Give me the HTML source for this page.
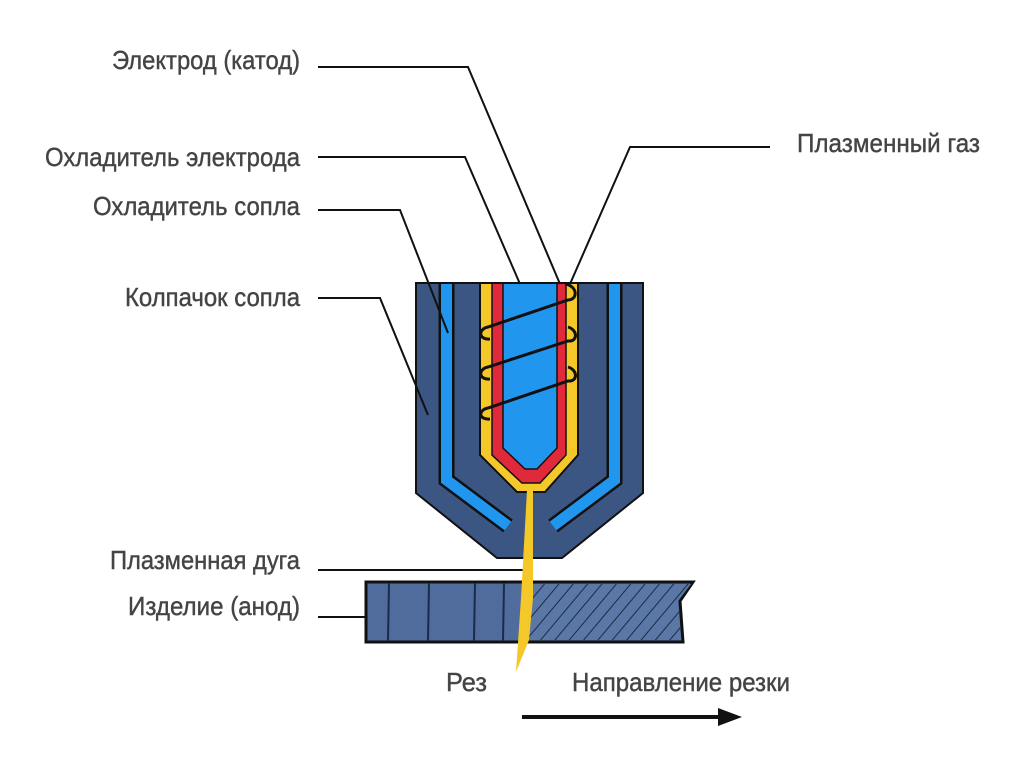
<!DOCTYPE html>
<html><head><meta charset="utf-8"><style>
html,body{margin:0;padding:0;background:#fff;}
svg{display:block}
text{font-family:"Liberation Sans Narrow","Liberation Sans",sans-serif;font-size:26px;fill:#444;}
</style></head><body>
<svg width="1024" height="767" viewBox="0 0 1024 767" xmlns="http://www.w3.org/2000/svg">
<defs>
<pattern id="hatch" patternUnits="userSpaceOnUse" width="11" height="11" patternTransform="rotate(40)">
<rect width="11" height="11" fill="#5a77a6"/>
<line x1="0" y1="0" x2="0" y2="11" stroke="#1a2a48" stroke-width="2"/>
</pattern>
</defs>
<!-- nozzle body -->
<polygon points="416,283 643,283 643,493 562,558 497,558 416,493" fill="#3b5682" stroke="#111" stroke-width="2"/>
<polyline points="446.5,283 446.5,480 508,526" fill="none" stroke="#111" stroke-width="16"/>
<polyline points="446.5,283 446.5,480 508,526" fill="none" stroke="#2196ef" stroke-width="11"/>
<polyline points="614.5,283 614.5,480 553,526" fill="none" stroke="#111" stroke-width="16"/>
<polyline points="614.5,283 614.5,480 553,526" fill="none" stroke="#2196ef" stroke-width="11"/>
<polygon points="480,283 480,455 517,492 545,492 578,455 578,283" fill="#f5c82a" stroke="#111" stroke-width="2"/>
<polygon points="492,283 492,455 522,483 540,483 566,455 566,283" fill="#e02a3c" stroke="#111" stroke-width="1.5"/>
<polygon points="503,283 503,448 525,469 537,469 557,448 557,283" fill="#2196ef" stroke="#111" stroke-width="1.5"/>
<line x1="416" y1="283" x2="643" y2="283" stroke="#111" stroke-width="2"/>
<!-- coil -->
<g stroke="#111" stroke-width="3" fill="none">
<path d="M565,284 C578,286 578,300 568,300 L488,327 C478,329 478,340 490,339"/>
<path d="M568,327 C578,330 578,342 568,341 L488,367 C478,369 478,380 490,379"/>
<path d="M568,367 C578,370 578,382 568,381 L488,408 C478,410 478,420 490,419"/>
</g>
<!-- leader lines -->
<g stroke="#111" stroke-width="2" fill="none">
<polyline points="318,67 468,67 560,284"/>
<polyline points="318,157 465,157 520,284"/>
<polyline points="318,210 400,210 448,333"/>
<polyline points="318,298 380,298 428,415"/>
<polyline points="770,147 630,147 570,284"/>
<line x1="318" y1="570" x2="528" y2="570"/>
<line x1="318" y1="617" x2="366" y2="617"/>
</g>
<!-- workpiece -->
<polygon points="366,582 693,582 680,601 683,642 366,642" fill="#4f6c9c" stroke="#111" stroke-width="3"/>
<polygon points="525,584 691,584 678,601 681,640 525,640" fill="url(#hatch)"/>
<g stroke="#1a2a48" stroke-width="2">
<line x1="389" y1="583" x2="388" y2="641"/>
<line x1="429" y1="583" x2="428" y2="641"/>
<line x1="475" y1="583" x2="474" y2="641"/>
<line x1="504" y1="583" x2="503" y2="641"/>
</g>
<!-- plasma stream -->
<polygon points="527,490 533,490 533,598 529,640 516,672 521,598" fill="#f5c82a"/>
<!-- arrow -->
<line x1="522" y1="717" x2="722" y2="717" stroke="#111" stroke-width="4"/>
<polygon points="718,708 742,717 718,726" fill="#111"/>
<!-- labels -->
<g stroke="#444" stroke-width="0.4">
<text x="300" y="69" text-anchor="end" textLength="188" lengthAdjust="spacingAndGlyphs">Электрод (катод)</text>
<text x="300" y="166" text-anchor="end" textLength="255" lengthAdjust="spacingAndGlyphs">Охладитель электрода</text>
<text x="300" y="215" text-anchor="end" textLength="207" lengthAdjust="spacingAndGlyphs">Охладитель сопла</text>
<text x="300" y="306" text-anchor="end" textLength="175" lengthAdjust="spacingAndGlyphs">Колпачок сопла</text>
<text x="797" y="152" textLength="183" lengthAdjust="spacingAndGlyphs">Плазменный газ</text>
<text x="300" y="569" text-anchor="end" textLength="190" lengthAdjust="spacingAndGlyphs">Плазменная дуга</text>
<text x="300" y="615" text-anchor="end" textLength="172" lengthAdjust="spacingAndGlyphs">Изделие (анод)</text>
<text x="446" y="691" textLength="41" lengthAdjust="spacingAndGlyphs">Рез</text>
<text x="572" y="691" textLength="218" lengthAdjust="spacingAndGlyphs">Направление резки</text>
</g>
</svg>
</body></html>
